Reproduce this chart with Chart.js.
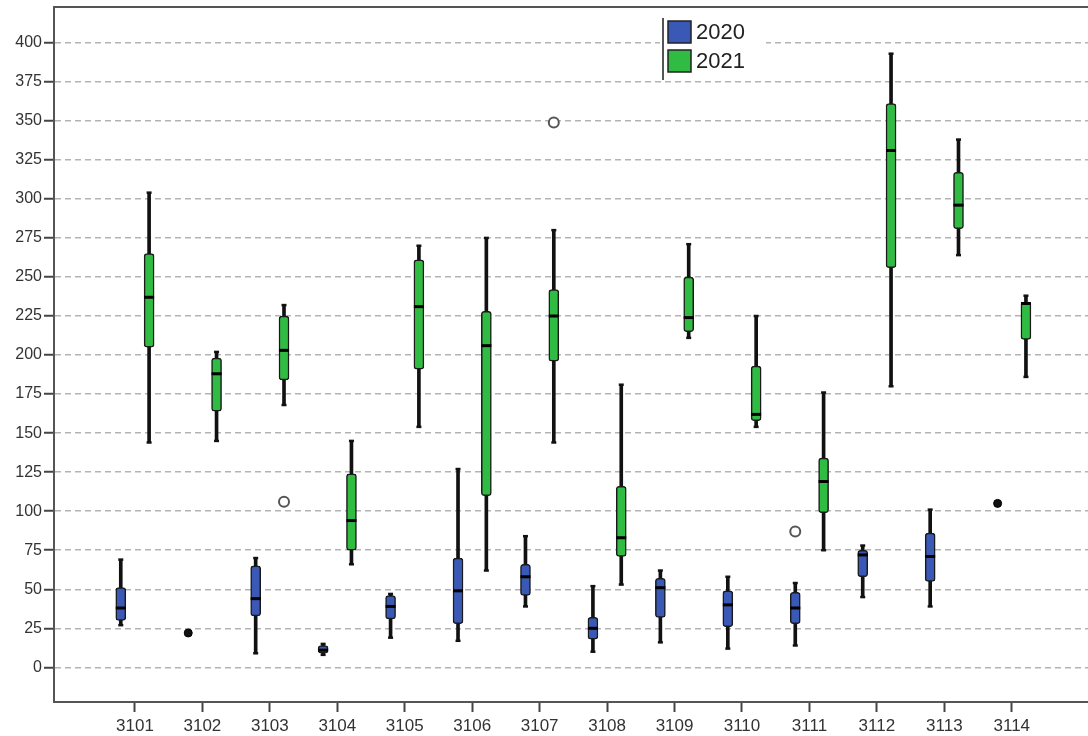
<!DOCTYPE html>
<html>
<head>
<meta charset="utf-8">
<script src="https://cdn.jsdelivr.net/npm/chart.js@4"></script>
<style>
  body { margin: 0; background: #fff; overflow: hidden; }
  canvas { display: block; }
</style>
</head>
<body>
<canvas id="chart" width="1088" height="736"></canvas>
<script>
// ===== данные =====
const categories = ['3101', '3102', '3103', '3104', '3105', '3106', '3107',
                    '3108', '3109', '3110', '3111', '3112', '3113', '3114'];
const yTicks = [0, 25, 50, 75, 100, 125, 150, 175, 200, 225, 250, 275, 300, 325, 350, 375, 400];
const seriesNames = ['2020', '2021'];

// 2020 (null = no box)
const min2020    = [27, null,  9,  8, 19,  17, 39, 10, 16, 12, 14, 45,  39, null];
const q1_2020    = [30, null, 33,  9, 31,  28, 46, 18, 32, 26, 28, 58,  55, null];
const median2020 = [38, null, 44, 11, 39,  49, 58, 25, 51, 40, 38, 72,  71, null];
const q3_2020    = [51, null, 65, 14, 46,  70, 66, 32, 57, 49, 48, 75,  86, null];
const max2020    = [69, null, 70, 15, 47, 127, 84, 52, 62, 58, 54, 78, 101, null];

// 2021
const min2021    = [144, 145, 168,  66, 154,  62, 144,  53, 211, 154,  75, 180, 264, 186];
const q1_2021    = [205, 164, 184,  75, 191, 110, 196,  71, 215, 158,  99, 256, 281, 210];
const median2021 = [237, 188, 203,  94, 231, 206, 225,  83, 224, 162, 119, 331, 296, 233];
const q3_2021    = [265, 198, 225, 124, 261, 228, 242, 116, 250, 193, 134, 361, 317, 234];
const max2021    = [304, 202, 232, 145, 270, 275, 280, 181, 271, 225, 176, 393, 338, 238];

// выбросы (open circles) and single values (filled dots)
const outlierCat2020 = ['3111'];
const outlierVal2020 = [87];
const outlierCat2021 = ['3103', '3107'];
const outlierVal2021 = [106, 349];
const singleCat2020 = ['3102', '3114'];
const singleVal2020 = [22, 105];

// ===== построение =====
const OFF = 0.21;  // сдвиг 2020 / 2021 от центра категории
const BLUE = '#3a58b5';
const GREEN = '#30bb42';

function pts(lo, hi, off) {
    const out = [];
    lo.forEach((v, i) => {
        if (v === null) return;
        out.push({x: i + off, y: [v, hi[i]]});
    });
    return out;
}
function single(vals, off) {
    const out = [];
    vals.forEach((v, i) => {
        if (v === null) return;
        out.push({x: i + off, y: v});
    });
    return out;
}
function byCat(cats, vals, off) {
    return cats.map((c, k) => ({x: categories.indexOf(c) + off, y: vals[k]}));
}

const datasets = [];
[[min2020, q1_2020, median2020, q3_2020, max2020, -OFF, BLUE],
 [min2021, q1_2021, median2021, q3_2021, max2021, OFF, GREEN]].forEach(s => {
    const [mn, q1, md, q3, mx, off, col] = s;
    // усы
    datasets.push({
        type: 'bar', data: pts(mn, mx, off), backgroundColor: '#111',
        barThickness: 3, grouped: false, order: 5,
    });
    // ящик
    datasets.push({
        type: 'bar', data: pts(q1, q3, off), backgroundColor: col,
        borderColor: '#1a1a1a', borderWidth: 1.5, borderSkipped: false,
        borderRadius: 3, barThickness: 10, grouped: false, order: 4,
    });
    // медиана
    datasets.push({
        type: 'scatter', data: single(md, off), pointStyle: 'line',
        radius: 5, borderWidth: 3, borderColor: '#000', order: 2,
    });
    // концы усов
    datasets.push({
        type: 'scatter', data: single(mn, off).concat(single(mx, off)), pointStyle: 'line',
        radius: 2.5, borderWidth: 2.5, borderColor: '#111', order: 3,
    });
});

datasets.push({
    type: 'scatter',
    data: byCat(outlierCat2020, outlierVal2020, -OFF).concat(byCat(outlierCat2021, outlierVal2021, OFF)),
    pointStyle: 'circle', radius: 5, borderWidth: 2, borderColor: '#555',
    backgroundColor: '#fff', order: 1,
});
datasets.push({
    type: 'scatter', data: byCat(singleCat2020, singleVal2020, -OFF),
    pointStyle: 'circle', radius: 4, borderWidth: 1, borderColor: '#000',
    backgroundColor: '#111', order: 1,
});

// рамка сверху + легенда
const framePlugin = {
    id: 'frame',
    afterDraw(chart) {
        const {ctx, chartArea: a} = chart;
        ctx.save();
        ctx.strokeStyle = '#555';
        ctx.lineWidth = 2;
        ctx.beginPath();
        ctx.moveTo(a.left, a.top);
        ctx.lineTo(a.right, a.top);
        ctx.stroke();

        // legend
        ctx.fillStyle = '#fff';
        ctx.fillRect(660, 15, 106, 64);
        ctx.strokeStyle = '#555';
        ctx.lineWidth = 2;
        ctx.beginPath();
        ctx.moveTo(663, 18);
        ctx.lineTo(663, 80);
        ctx.stroke();
        [BLUE, GREEN].forEach((c, i) => {
            const y = 21 + i * 29;
            ctx.fillStyle = c;
            ctx.fillRect(668, y, 23, 22);
            ctx.strokeStyle = '#222';
            ctx.lineWidth = 1.5;
            ctx.strokeRect(668, y, 23, 22);
            ctx.fillStyle = '#222';
            ctx.font = '22px "Liberation Sans", Arial, sans-serif';
            ctx.textBaseline = 'middle';
            ctx.fillText(seriesNames[i], 696, y + 12);
        });
        ctx.restore();
    }
};

new Chart(document.getElementById('chart'), {
    type: 'bar',
    data: {datasets: datasets},
    options: {
        responsive: false,
        devicePixelRatio: 1,
        animation: false,
        layout: {autoPadding: false, padding: {top: 7, right: 0, left: 0, bottom: 0}},
        scales: {
            x: {
                type: 'linear',
                min: -1.2,
                max: 14.13,
                offset: false,
                grid: {
                    offset: false,
                    drawOnChartArea: false,
                    drawTicks: true,
                    tickLength: 10,
                    tickWidth: 2,
                    tickColor: '#444',
                },
                border: {display: true, color: '#555', width: 2},
                afterBuildTicks: scale => {
                    scale.ticks = categories.map((c, i) => ({value: i}));
                },
                ticks: {
                    padding: 4,
                    color: '#333',
                    font: {family: '"Liberation Sans", Arial, sans-serif', size: 17},
                    maxRotation: 0,
                    autoSkip: false,
                    callback: v => categories[v],
                },
                afterFit: scale => {
                    scale.height = 34;
                    scale.paddingLeft = 0;
                    scale.paddingRight = 0;
                },
            },
            y: {
                min: -22.2,
                max: 422.9,
                grid: {
                    color: '#b3b3b3',
                    lineWidth: 1.5,
                    tickLength: 10,
                    tickWidth: 2,
                    tickColor: '#444',
                },
                border: {display: true, color: '#555', width: 2, dash: [6, 4]},
                afterBuildTicks: scale => {
                    scale.ticks = yTicks.map(v => ({value: v}));
                },
                ticks: {
                    padding: 2,
                    color: '#333',
                    font: {family: '"Liberation Sans", Arial, sans-serif', size: 16},
                },
                afterFit: scale => {
                    scale.width = 54;
                    scale.paddingTop = 0;
                    scale.paddingBottom = 0;
                },
            },
        },
        plugins: {
            legend: {display: false},
            tooltip: {enabled: false},
        },
    },
    plugins: [framePlugin],
});
</script>
</body>
</html>
